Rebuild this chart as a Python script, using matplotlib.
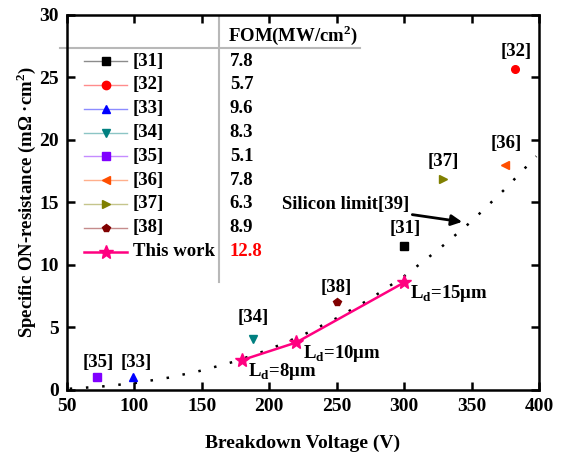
import matplotlib.pyplot as plt
from matplotlib.lines import Line2D

plt.rcParams["font.family"] = ["Liberation Serif", "DejaVu Serif"]
plt.rcParams["font.weight"] = "bold"
plt.rcParams["mathtext.fontset"] = "custom"
plt.rcParams["mathtext.rm"] = "Liberation Serif:bold"
plt.rcParams["mathtext.bf"] = "Liberation Serif:bold"

# reference devices: breakdown voltage (V), Ron,sp (mOhm.cm2), FOM
refs = ["[31]", "[32]", "[33]", "[34]", "[35]", "[36]", "[37]", "[38]"]
ref_bv = [300, 382, 99, 188, 72, 375, 329, 250]
ref_ron = [11.5, 25.7, 1.0, 4.1, 1.0, 18.0, 16.9, 7.0]
ref_fom = ["7.8", "5.7", "9.6", "8.3", "5.1", "7.8", "6.3", "8.9"]
ref_colors = ["#000000", "#ff0000", "#0000ff", "#008080", "#8000ff",
              "#ff4e00", "#808000", "#800000"]
ref_markers = ["s", "o", "^", "v", "s", "<", ">", "p"]

# this work
work_bv = [180, 220, 300]
work_ron = [2.4, 3.8, 8.6]
work_fom = "12.8"
work_labels = ["L$_\\mathbf{d}$=8\u03bcm", "L$_\\mathbf{d}$=10\u03bcm",
               "L$_\\mathbf{d}$=15\u03bcm"]

# silicon limit curve
si_bv = [52, 75, 100, 125, 150, 175, 200, 225, 250, 275, 300, 325, 350, 375, 398]
si_ron = [0.1, 0.27, 0.55, 0.98, 1.56, 2.3, 3.25, 4.4, 5.75, 7.3, 9.1, 11.2, 13.5, 16.1, 18.7]

# label positions next to the reference markers
ref_text_xy = [(301, 12.9), (383, 27.1), (101, 2.2), (188, 5.8), (73, 2.2),
               (376, 19.7), (329, 18.3), (250, 8.2)]
work_text_xy = [(184, 1.45), (225, 2.9), (304, 7.7)]

FS = 13.5

fig = plt.figure(figsize=(5.65, 4.53), dpi=100)
ax = fig.add_axes([0.1186, 0.1391, 0.8354, 0.8278])

ax.plot(si_bv, si_ron, color="black", linestyle=(0, (1, 5.5)), linewidth=1.8)

for bv, ron, c, m in zip(ref_bv, ref_ron, ref_colors, ref_markers):
    ax.plot(bv, ron, linestyle="none", marker=m, color=c, markersize=5.5)
for name, (tx, ty) in zip(refs, ref_text_xy):
    ax.text(tx, ty, name, ha="center", va="center", fontsize=FS)

ax.plot(work_bv, work_ron, color="#ff0080", linewidth=1.8, marker="*", markersize=10)
for lab, (tx, ty) in zip(work_labels, work_text_xy):
    ax.text(tx, ty, lab, ha="left", va="center", fontsize=FS)

ax.annotate("Silicon limit[39]", xy=(343, 13.45), xytext=(304, 14.8),
            ha="right", va="center", fontsize=FS,
            arrowprops=dict(arrowstyle="-|>", color="black", lw=2.0,
                            mutation_scale=16, shrinkA=0, shrinkB=0))

# table-style legend with FOM column
row0, dy = 0.877, 0.0635
for i, (name, c, m, fom) in enumerate(zip(refs, ref_colors, ref_markers, ref_fom)):
    y = row0 - i * dy
    ax.add_line(Line2D([0.036, 0.127], [y, y], color=c, alpha=0.45, lw=1.0,
                       transform=ax.transAxes))
    ax.add_line(Line2D([0.083], [y], marker=m, color=c, markersize=6,
                       transform=ax.transAxes))
    ax.text(0.140, y, name, transform=ax.transAxes, va="center", fontsize=FS)
    ax.text(0.345, y, fom, transform=ax.transAxes, va="center", fontsize=FS)
y = row0 - len(refs) * dy
ax.add_line(Line2D([0.036, 0.127], [y, y], color="#ff0080", lw=1.8,
                   transform=ax.transAxes))
ax.add_line(Line2D([0.083], [y], marker="*", color="#ff0080", markersize=10,
                   transform=ax.transAxes))
ax.text(0.140, y, "This work", transform=ax.transAxes, va="center", fontsize=FS)
ax.text(0.345, y, work_fom, transform=ax.transAxes, va="center", fontsize=FS,
        color="#ff0000")
ax.text(0.341, 0.947, "FOM(MW/cm$^\\mathbf{2}$)", transform=ax.transAxes,
        va="center", fontsize=FS)
ax.add_line(Line2D([-0.015, 0.621], [0.912, 0.912], color="#b8b8b8", lw=1.5,
                   transform=ax.transAxes, clip_on=False))
ax.add_line(Line2D([0.322, 0.322], [0.288, 1.0], color="#b8b8b8", lw=1.5,
                   transform=ax.transAxes))

ax.set_xlim(50, 400)
ax.set_ylim(0, 30)
ax.set_xticks(range(50, 401, 50))
ax.set_yticks(range(0, 31, 5))
ax.tick_params(direction="in", top=True, right=True, length=6, width=1.8,
               labelsize=14, pad=6)
for sp in ax.spines.values():
    sp.set_linewidth(1.8)
ax.set_xlabel("Breakdown Voltage (V)", fontsize=14, fontweight="bold", labelpad=14)
ax.set_ylabel("Specific ON-resistance (m\u03a9 \u00b7cm$^\\mathbf{2}$)",
              fontsize=13.5, fontweight="bold", labelpad=1)

fig.savefig("out.png", dpi=100)
